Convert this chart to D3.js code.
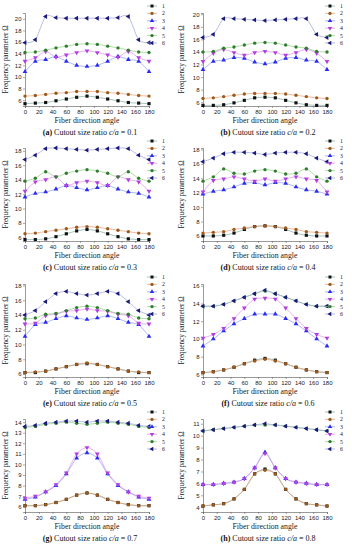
<!DOCTYPE html>
<html>
<head>
<meta charset="utf-8">
<script src="https://cdn.jsdelivr.net/npm/d3@7"></script>
<style>
  body { margin: 0; background: #fff; }
  svg { display: block; font-family: "Liberation Serif", "DejaVu Serif", serif; }
</style>
</head>
<body>
<svg width="352" height="550"></svg>
<script>
// fiber angles where the frequencies were computed
var angles = [0, 15, 30, 45, 60, 75, 90, 105, 120, 135, 150, 165, 180];
var xTicks = [0, 20, 40, 60, 80, 100, 120, 140, 160, 180];
var seriesNames = ["1", "2", "3", "4", "5", "6"];
var panelLetters = ["a", "b", "c", "d", "e", "f", "g", "h"];
var ratios = ["0.1", "0.2", "0.3", "0.4", "0.5", "0.6", "0.7", "0.8"];

// each panel: series 1..6
var panelA = [
  [5.4, 5.5, 5.6, 5.9, 6.2, 6.5, 6.7, 6.5, 6.2, 5.9, 5.6, 5.5, 5.4],
  [6.7, 6.8, 7.0, 7.2, 7.3, 7.5, 7.5, 7.5, 7.3, 7.2, 7.0, 6.8, 6.7],
  [10.9, 12.7, 13.0, 13.5, 12.7, 12.0, 11.8, 12.0, 12.7, 13.5, 13.0, 12.7, 10.9],
  [12.7, 13.3, 14.4, 13.4, 13.8, 14.2, 14.5, 14.2, 13.8, 13.4, 14.4, 13.3, 12.7],
  [14.2, 14.3, 14.6, 15.0, 15.3, 15.6, 15.7, 15.6, 15.3, 15.0, 14.6, 14.3, 14.2],
  [15.9, 16.4, 20.4, 20.2, 20.1, 20.1, 20.1, 20.1, 20.1, 20.2, 20.4, 16.4, 15.9]
];
var panelB = [
  [5.5, 5.5, 5.6, 5.9, 6.3, 6.7, 6.8, 6.7, 6.3, 5.9, 5.6, 5.5, 5.5],
  [6.6, 6.7, 6.9, 7.1, 7.3, 7.4, 7.4, 7.4, 7.3, 7.1, 6.9, 6.7, 6.6],
  [11.2, 12.5, 12.7, 13.1, 13.0, 12.4, 12.1, 12.4, 13.0, 13.1, 12.7, 12.5, 11.2],
  [12.5, 13.8, 14.4, 13.9, 13.5, 13.9, 14.1, 13.9, 13.5, 13.9, 14.4, 13.8, 12.5],
  [14.0, 14.1, 14.6, 14.8, 15.1, 15.4, 15.5, 15.4, 15.1, 14.8, 14.6, 14.1, 14.0],
  [16.3, 16.8, 19.3, 19.3, 19.2, 19.1, 19.0, 19.1, 19.2, 19.3, 19.3, 16.8, 16.3]
];
var panelC = [
  [5.7, 5.7, 5.8, 6.1, 6.5, 6.9, 7.1, 6.9, 6.5, 6.1, 5.8, 5.7, 5.7],
  [6.5, 6.6, 6.8, 7.0, 7.2, 7.4, 7.5, 7.4, 7.2, 7.0, 6.8, 6.6, 6.5],
  [11.6, 12.1, 12.3, 12.7, 13.2, 12.9, 12.6, 12.9, 13.2, 12.7, 12.3, 12.1, 11.6],
  [12.4, 13.7, 14.0, 14.4, 13.2, 13.6, 13.8, 13.6, 13.2, 14.4, 14.0, 13.7, 12.4],
  [13.8, 14.2, 15.1, 14.4, 14.9, 15.2, 15.4, 15.2, 14.9, 14.4, 15.1, 14.2, 13.8],
  [16.8, 17.4, 18.3, 18.4, 18.3, 18.2, 18.1, 18.2, 18.3, 18.4, 18.3, 17.4, 16.8]
];
var panelD = [
  [6.0, 6.0, 6.1, 6.4, 6.9, 7.3, 7.4, 7.3, 6.9, 6.4, 6.1, 6.0, 6.0],
  [6.4, 6.5, 6.6, 6.9, 7.1, 7.3, 7.4, 7.3, 7.1, 6.9, 6.6, 6.5, 6.4],
  [11.8, 12.2, 12.4, 12.8, 13.3, 13.4, 13.1, 13.4, 13.3, 12.8, 12.4, 12.2, 11.8],
  [12.1, 13.7, 13.9, 14.2, 13.9, 13.6, 13.9, 13.6, 13.9, 14.2, 13.9, 13.7, 12.1],
  [13.6, 14.2, 15.3, 14.7, 14.6, 15.0, 15.2, 15.0, 14.6, 14.7, 15.3, 14.2, 13.6],
  [16.3, 16.8, 17.4, 17.6, 17.6, 17.5, 17.3, 17.5, 17.6, 17.6, 17.4, 16.8, 16.3]
];
var panelE = [
  [6.2, 6.2, 6.4, 6.7, 7.0, 7.3, 7.4, 7.3, 7.0, 6.7, 6.4, 6.2, 6.2],
  [6.2, 6.3, 6.4, 6.7, 7.0, 7.3, 7.5, 7.3, 7.0, 6.7, 6.4, 6.3, 6.2],
  [11.1, 12.7, 13.0, 13.5, 13.9, 13.6, 13.4, 13.6, 13.9, 13.5, 13.0, 12.7, 11.1],
  [12.8, 12.9, 13.9, 14.1, 14.5, 14.6, 14.8, 14.6, 14.5, 14.1, 13.9, 12.9, 12.8],
  [13.5, 13.6, 14.1, 14.2, 14.6, 15.0, 15.2, 15.0, 14.6, 14.2, 14.1, 13.6, 13.5],
  [14.0, 14.6, 15.8, 16.9, 17.2, 16.9, 16.7, 16.9, 17.2, 16.9, 15.8, 14.6, 14.0]
];
var panelF = [
  [6.2, 6.3, 6.5, 6.8, 7.2, 7.6, 7.8, 7.6, 7.2, 6.8, 6.5, 6.3, 6.2],
  [6.2, 6.3, 6.5, 6.8, 7.2, 7.5, 7.7, 7.5, 7.2, 6.8, 6.5, 6.3, 6.2],
  [9.2, 10.0, 10.9, 11.7, 12.3, 12.8, 12.8, 12.8, 12.3, 11.7, 10.9, 10.0, 9.2],
  [10.1, 10.5, 11.2, 12.3, 13.5, 14.5, 14.6, 14.5, 13.5, 12.3, 11.2, 10.5, 10.1],
  [13.7, 13.7, 13.9, 14.3, 14.7, 15.1, 15.4, 15.1, 14.7, 14.3, 13.9, 13.7, 13.7],
  [13.7, 13.7, 13.9, 14.3, 14.7, 15.1, 15.5, 15.1, 14.7, 14.3, 13.9, 13.7, 13.7]
];
var panelG = [
  [6.1, 6.1, 6.2, 6.4, 6.7, 7.1, 7.3, 7.1, 6.7, 6.4, 6.2, 6.1, 6.1],
  [6.1, 6.1, 6.2, 6.4, 6.7, 7.1, 7.3, 7.1, 6.7, 6.4, 6.2, 6.1, 6.1],
  [6.7, 6.9, 7.4, 8.0, 9.1, 10.6, 11.1, 10.6, 9.1, 8.0, 7.4, 6.9, 6.7],
  [6.8, 7.0, 7.4, 8.1, 9.2, 11.0, 11.6, 11.0, 9.2, 8.1, 7.4, 7.0, 6.8],
  [13.5, 13.6, 13.8, 13.9, 14.0, 13.9, 13.8, 13.9, 14.0, 13.9, 13.8, 13.6, 13.5],
  [13.6, 13.7, 13.9, 14.0, 14.1, 14.1, 14.0, 14.1, 14.1, 14.0, 13.9, 13.7, 13.6]
];
var panelH = [
  [4.1, 4.2, 4.3, 4.7, 5.5, 6.8, 7.2, 6.8, 5.5, 4.7, 4.3, 4.2, 4.1],
  [4.1, 4.2, 4.3, 4.7, 5.5, 6.8, 7.1, 6.8, 5.5, 4.7, 4.3, 4.2, 4.1],
  [5.9, 5.9, 6.0, 6.1, 6.4, 7.3, 8.6, 7.3, 6.4, 6.1, 6.0, 5.9, 5.9],
  [5.9, 5.9, 6.0, 6.1, 6.4, 7.3, 8.5, 7.3, 6.4, 6.1, 6.0, 5.9, 5.9],
  [10.4, 10.5, 10.6, 10.7, 10.8, 10.9, 10.9, 10.9, 10.8, 10.7, 10.6, 10.5, 10.4],
  [10.4, 10.5, 10.6, 10.7, 10.8, 10.9, 11.0, 10.9, 10.8, 10.7, 10.6, 10.5, 10.4]
];
var panels = [panelA, panelB, panelC, panelD, panelE, panelF, panelG, panelH];

// y axis ranges and tick labels
var yDomains = [[5, 21], [5.4, 20.2], [5.5, 18.4], [5.3, 18.2], [5.6, 18.2], [5.7, 16.2], [5.5, 14.3], [3.6, 11.4]];
var yTicks = [
  [6, 8, 10, 12, 14, 16, 18, 20],
  [6, 8, 10, 12, 14, 16, 18, 20],
  [6, 8, 10, 12, 14, 16, 18],
  [6, 8, 10, 12, 14, 16, 18],
  [6, 8, 10, 12, 14, 16, 18],
  [6, 8, 10, 12, 14, 16],
  [6, 7, 8, 9, 10, 11, 12, 13, 14],
  [4, 5, 6, 7, 8, 9, 10, 11]
];

var markColors = ["#111111", "#9a5a1c", "#2c2cf0", "#b040e0", "#2f7d2f", "#1a1a7a"];
var lineColors = ["#7aa9a0", "#e69a70", "#8a9cf0", "#e08ce8", "#8ccf7c", "#9aa0d8"];
var symbols = [d3.symbolSquare, d3.symbolCircle, d3.symbolTriangle, d3.symbolTriangle, d3.symbolCircle, d3.symbolTriangle];
var rotations = [0, 0, 0, 180, 0, -90];

var svg = d3.select("svg");

panels.forEach(function(data, i) {
  var col = i % 2, row = Math.floor(i / 2);
  var ox = col * 176, oy = [0, 135, 271, 406][row];
  var left = ox + (col ? 27 : 25), right = left + 124;
  var top = oy + 13, bottom = oy + 106;

  var x = d3.scaleLinear().domain([0, 180]).range([left, right]);
  var y = d3.scaleLinear().domain(yDomains[i]).range([bottom, top]);

  var g = svg.append("g");

  g.append("g")
    .attr("transform", "translate(0," + bottom + ")")
    .call(d3.axisBottom(x).tickValues(xTicks).tickSize(2).tickPadding(1.5))
    .call(function(a) {
      a.selectAll("text").attr("font-size", 6).attr("fill", "#222");
      a.select(".domain").attr("stroke", "#555").attr("stroke-width", 0.6);
      a.selectAll(".tick line").attr("stroke", "#555").attr("stroke-width", 0.5);
    });

  g.append("g")
    .attr("transform", "translate(" + left + ",0)")
    .call(d3.axisLeft(y).tickValues(yTicks[i]).tickSize(2).tickPadding(1.5))
    .call(function(a) {
      a.selectAll("text").attr("font-size", 6).attr("fill", "#222");
      a.select(".domain").attr("stroke", "#555").attr("stroke-width", 0.6);
      a.selectAll(".tick line").attr("stroke", "#555").attr("stroke-width", 0.5);
    });

  g.append("text")
    .attr("x", ox + 8).attr("y", (top + bottom) / 2)
    .attr("transform", "rotate(-90," + (ox + 8) + "," + ((top + bottom) / 2) + ")")
    .attr("text-anchor", "middle").attr("font-size", 7.2).attr("fill", "#222")
    .text("Frequency parameter Ω");

  g.append("text")
    .attr("x", (left + right) / 2).attr("y", oy + 123)
    .attr("text-anchor", "middle").attr("font-size", 7.8).attr("fill", "#222")
    .text("Fiber direction angle");

  var cap = g.append("text")
    .attr("x", (left + right) / 2 + 3).attr("y", oy + 134.5)
    .attr("text-anchor", "middle").attr("font-size", 8).attr("fill", "#111");
  cap.append("tspan").attr("font-weight", "bold").text("(" + panelLetters[i] + ")");
  cap.append("tspan").text(" Cutout size ratio ");
  cap.append("tspan").attr("font-style", "italic").text("c/a");
  cap.append("tspan").text(" = " + ratios[i]);

  var line = d3.line()
    .x(function(d, k) { return x(angles[k]); })
    .y(function(d) { return y(d); })
    .curve(d3.curveCardinal.tension(0.2));

  data.forEach(function(vals, s) {
    g.append("path")
      .attr("d", line(vals))
      .attr("fill", "none")
      .attr("stroke", lineColors[s])
      .attr("stroke-width", 0.7);
  });

  data.forEach(function(vals, s) {
    g.selectAll(null)
      .data(vals)
      .enter().append("path")
      .attr("d", d3.symbol().type(symbols[s]).size(s === 1 || s === 4 ? 9 : 10))
      .attr("transform", function(d, k) {
        return "translate(" + x(angles[k]) + "," + y(d) + ") rotate(" + rotations[s] + ")";
      })
      .attr("fill", markColors[s]);
  });

  // legend
  var lg = g.append("g");
  seriesNames.forEach(function(name, s) {
    var ly = oy + 6 + s * 7.4, lx = ox + (col ? 154 : 152);
    lg.append("line")
      .attr("x1", lx - 5).attr("x2", lx + 5).attr("y1", ly).attr("y2", ly)
      .attr("stroke", lineColors[s]).attr("stroke-width", 0.7);
    lg.append("path")
      .attr("d", d3.symbol().type(symbols[s]).size(9))
      .attr("transform", "translate(" + lx + "," + ly + ") rotate(" + rotations[s] + ")")
      .attr("fill", markColors[s]);
    lg.append("text")
      .attr("x", lx + 10).attr("y", ly + 2)
      .attr("font-size", 5.8).attr("fill", "#222")
      .text(name);
  });
});
</script>
</body>
</html>
